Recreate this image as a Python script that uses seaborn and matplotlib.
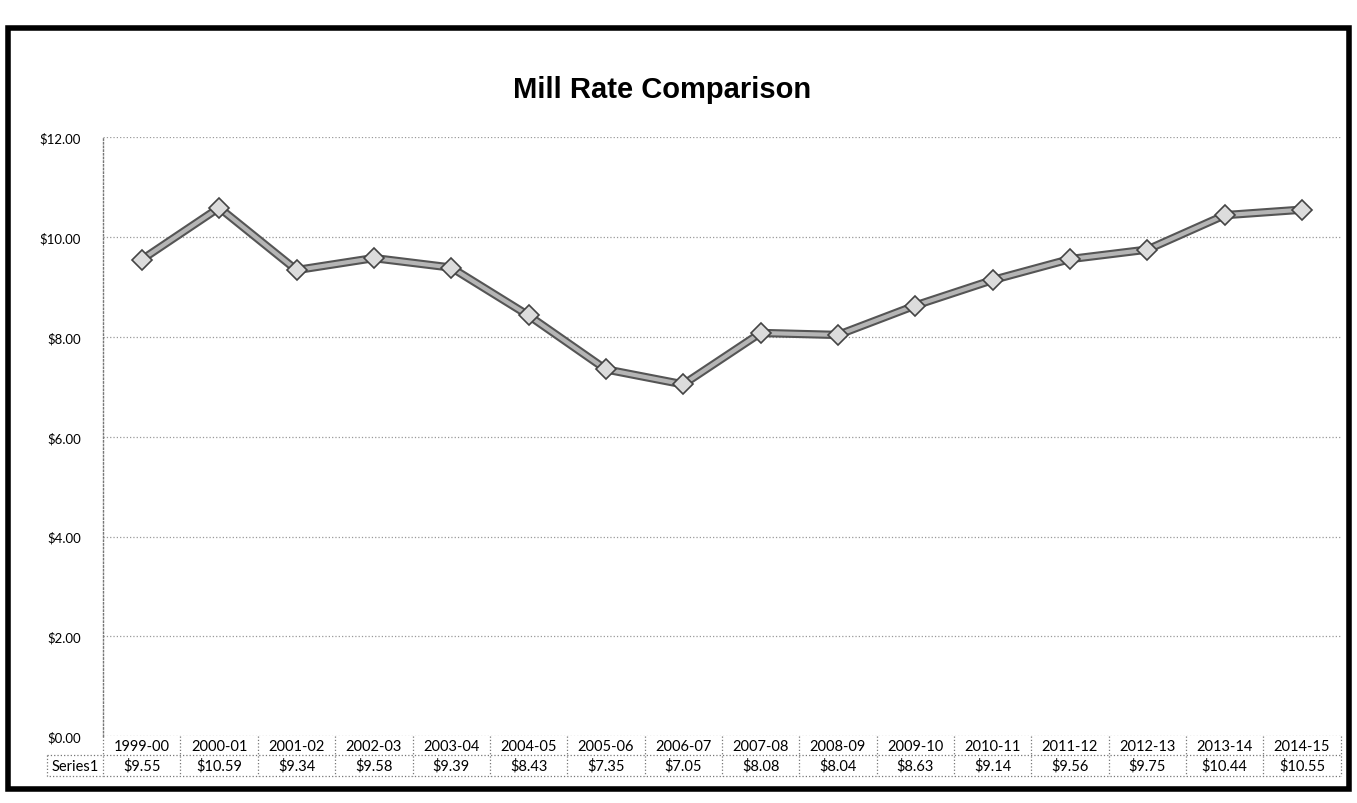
import matplotlib
matplotlib.use('Agg')
import matplotlib.pyplot as plt
import matplotlib.patches as patches
import matplotlib.transforms as mtransforms
import seaborn as sns
import pandas as pd

years = ['1999-00', '2000-01', '2001-02', '2002-03', '2003-04', '2004-05', '2005-06', '2006-07',
         '2007-08', '2008-09', '2009-10', '2010-11', '2011-12', '2012-13', '2013-14', '2014-15']
rates = [9.55, 10.59, 9.34, 9.58, 9.39, 8.43, 7.35, 7.05,
         8.08, 8.04, 8.63, 9.14, 9.56, 9.75, 10.44, 10.55]
y_ticks = [0, 2, 4, 6, 8, 10, 12]
series_name = 'Series1'


def main():
	df = pd.DataFrame({'year': years, 'rate': rates})

	sns.set_theme(style='white')
	plt.rcParams['font.family'] = ['Lato', 'DejaVu Sans']
	plt.rcParams['text.color'] = 'black'
	plt.rcParams['ytick.color'] = 'black'

	fig = plt.figure(figsize=(13.57, 8.04), dpi=100)
	ax = fig.add_axes([0.076, 0.083, 0.912, 0.745])

	# thick dark outline under a lighter grey line to mimic the textured Excel line
	sns.lineplot(data=df, x='year', y='rate', ax=ax, color='#555555', linewidth=6, sort=False, zorder=3)
	sns.lineplot(data=df, x='year', y='rate', ax=ax, color='#b5b5b5', linewidth=3, sort=False, zorder=4,
				 marker='D', markersize=10, markerfacecolor='#dcdcdc', markeredgecolor='#444444',
				 markeredgewidth=1.2)

	ax.set_xlim(-0.5, len(years) - 0.5)
	ax.set_ylim(0, 12)
	ax.set_yticks(y_ticks)
	ax.set_yticklabels([f'${v:.2f}' for v in y_ticks], fontsize=9.5)
	ax.tick_params(axis='y', length=0, pad=16)
	ax.set_xticks([])
	ax.set_xlabel('')
	ax.set_ylabel('')
	for s in ['top', 'right', 'bottom']:
		ax.spines[s].set_visible(False)
	ax.spines['left'].set_linestyle(':')
	ax.spines['left'].set_color('#777777')
	ax.spines['left'].set_linewidth(1)
	for v in y_ticks:
		ax.axhline(v, color='#999999', linestyle=':', linewidth=0.9, zorder=1)

	# data table under the axis
	trans = mtransforms.blended_transform_factory(ax.transData, ax.transAxes)
	row1, row2, mid, bottom = -0.016, -0.049, -0.032, -0.066
	grid = dict(color='#777777', linestyle=':', linewidth=0.9, clip_on=False)
	for i, (yr, r) in enumerate(zip(years, rates)):
		ax.text(i, row1, yr, transform=trans, ha='center', va='center', fontsize=10.5, clip_on=False)
		ax.text(i, row2, f'${r:.2f}', transform=trans, ha='center', va='center', fontsize=10.5, clip_on=False)
	for i in range(len(years) + 1):
		ax.plot([i - 0.5, i - 0.5], [0, bottom], transform=trans, **grid)
	ax.plot([-0.5, len(years) - 0.5], [mid, mid], transform=trans, **grid)
	ax.plot([-0.5, len(years) - 0.5], [bottom, bottom], transform=trans, **grid)
	ax.text(-0.0225, row2, series_name, transform=ax.transAxes, ha='center', va='center', fontsize=10.5)
	ax.plot([-0.045, -0.045, 0], [mid, bottom, bottom], transform=ax.transAxes, **grid)
	ax.plot([-0.045, 0], [mid, mid], transform=ax.transAxes, **grid)

	fig.text(0.488, 0.888, 'Mill Rate Comparison', ha='center', va='center', fontsize=21,
			 fontweight='bold', family=['Liberation Sans', 'DejaVu Sans'])

	# chart border
	fig.patches.append(patches.Rectangle((0.006, 0.018), 0.988, 0.946, transform=fig.transFigure,
										 fill=False, edgecolor='black', linewidth=4))

	fig.savefig('out.png', dpi=100)


if __name__ == '__main__':
	main()
